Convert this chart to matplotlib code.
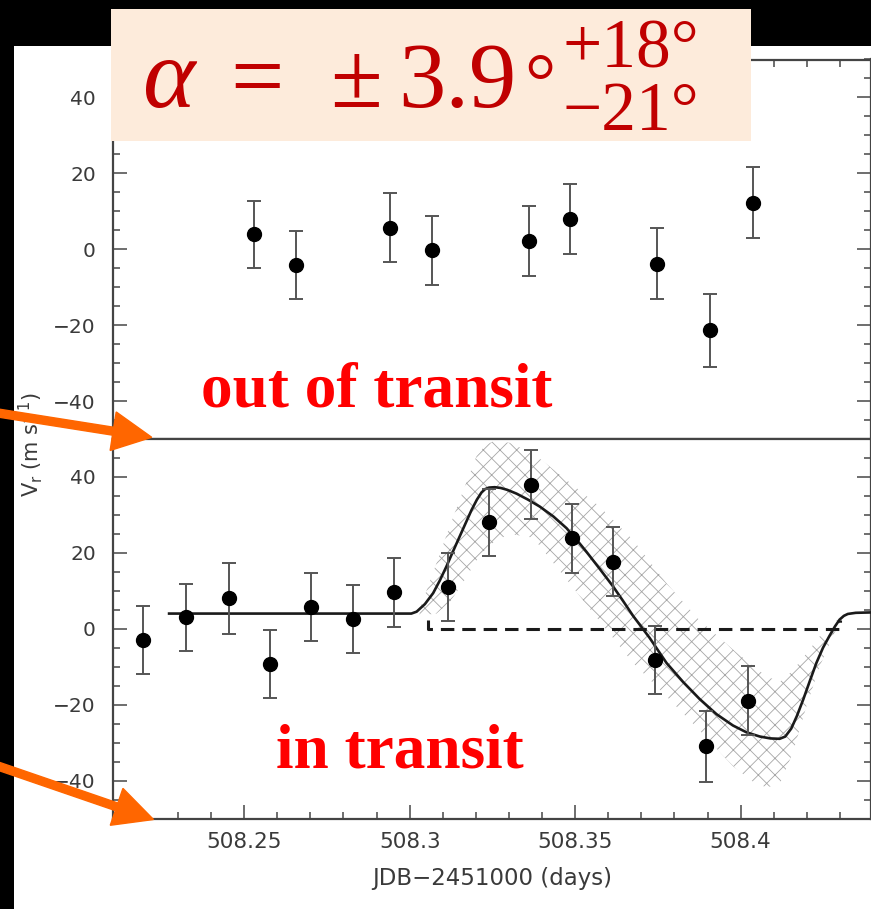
import matplotlib
matplotlib.use("Agg")
import matplotlib.pyplot as plt
from matplotlib.patches import Rectangle, FancyArrow
from matplotlib.ticker import FixedLocator, FixedFormatter, MultipleLocator
from matplotlib.transforms import IdentityTransform

# ---------------- data ----------------
# out of transit
out_t = [508.2529, 508.2655, 508.2940, 508.3068, 508.3360, 508.3484, 508.3746, 508.3909, 508.4037]
out_v = [3.9, -4.2, 5.7, -0.3, 2.2, 7.9, -3.8, -21.3, 12.3]
out_e = [8.9, 9.0, 9.1, 9.1, 9.2, 9.2, 9.4, 9.6, 9.4]

# in transit
in_t = [508.2195, 508.2324, 508.2454, 508.2577, 508.2703, 508.2829, 508.2953, 508.3117,
        508.3240, 508.3366, 508.3489, 508.3615, 508.3740, 508.3894, 508.4021]
in_v = [-2.9, 3.0, 8.0, -9.2, 5.7, 2.5, 9.6, 11.0, 28.0, 37.9, 23.9, 17.7, -8.3, -31.0, -19.0]
in_e = [8.9, 8.9, 9.3, 9.0, 8.9, 9.0, 9.1, 8.9, 8.8, 9.1, 9.1, 9.1, 9.0, 9.4, 9.1]

# model curve (Rossiter-McLaughlin fit)
model_t = [508.2273, 508.3005, 508.3021, 508.3046, 508.3071, 508.3091, 508.3111, 508.3131,
           508.3151, 508.3170, 508.3187, 508.3203, 508.3217, 508.3228, 508.3240, 508.3257,
           508.3275, 508.3295, 508.3323, 508.3358, 508.3393, 508.3434, 508.3474, 508.3504,
           508.3534, 508.3575, 508.3615, 508.3645, 508.3675, 508.3725, 508.3776, 508.3826,
           508.3876, 508.3927, 508.3977, 508.4018, 508.4058, 508.4090, 508.4118, 508.4135,
           508.4153, 508.4170, 508.4189, 508.4209, 508.4229, 508.4249, 508.4269, 508.4285,
           508.4299, 508.4312, 508.4324, 508.4348, 508.4394]
model_v = [4.0, 4.0, 4.5, 6.5, 9.4, 12.7, 16.4, 20.4, 24.3, 28.0, 31.3, 34.0, 35.9, 36.8,
           37.2, 37.3, 37.1, 36.6, 35.6, 34.0, 32.2, 29.6, 26.5, 23.5, 20.3, 15.7, 11.1,
           7.3, 3.4, -2.4, -9.0, -14.0, -18.5, -22.5, -25.5, -27.3, -28.4, -28.9, -29.0,
           -28.4, -26.3, -23.0, -18.7, -13.8, -9.0, -5.0, -1.8, 0.6, 2.4, 3.4, 3.9, 4.2, 4.3]

# uncertainty band of the model
band_t = [508.3030, 508.3081, 508.3121, 508.3160, 508.3202, 508.3230, 508.3257, 508.3302,
          508.3373, 508.3474, 508.3574, 508.3675, 508.3776, 508.3874, 508.3977, 508.4040,
          508.4078, 508.4118, 508.4158, 508.4199, 508.4239, 508.4279, 508.4308]
band_hi = [5.0, 17.3, 27.0, 36.0, 45.5, 48.5, 49.5, 49.0, 46.2, 39.2, 32.2, 23.4, 12.0, 2.4,
           -5.5, -10.0, -12.5, -14.0, -11.0, -6.5, -2.0, 1.5, 3.5]
band_lo = [3.5, 4.0, 7.0, 12.0, 18.0, 21.0, 23.0, 25.0, 24.0, 13.0, 2.0, -9.0, -17.8,
           -26.6, -36.2, -40.5, -41.8, -41.0, -32.6, -20.4, -9.9, -2.0, 3.0]

# aligned (zero) reference: dashed step
ref_t = [508.3056, 508.3056, 508.4299, 508.4299]
ref_v = [2.4, 0.0, 0.0, 2.4]

xticks = [508.25, 508.3, 508.35, 508.4]
xtick_labels = ["508.25", "508.3", "508.35", "508.4"]
yticks = [-40, -20, 0, 20, 40]
ytick_labels = ["\u221240", "\u221220", "0", "20", "40"]

xlabel = "JDB\u22122451000 (days)"
ylabel = r"V$_\mathrm{r}$ (m s$^{-1}$)"
label_out = "out of transit"
label_in = "in transit"
title_main = ["\u03b1", "=", "\u00b1", "3.9", "\u00b0"]
title_err = "+18\u00b0\n\u221221\u00b0"

# ---------------- figure ----------------
W, H = 871, 909
fig = plt.figure(figsize=(W / 100, H / 100), dpi=100, facecolor="black")
plt.rcParams["hatch.linewidth"] = 0.6


def fx(px):
    return px / W


def fy(py):
    return 1 - py / H


# white page
fig.add_artist(Rectangle((fx(14), 0), 1 - fx(14), fy(46), transform=fig.transFigure,
                         facecolor="white", edgecolor="none", zorder=-5))

left, right = 112.5, 871
top, mid, bot = 59.5, 439, 818.5
ax1 = fig.add_axes([fx(left), fy(mid), fx(right) - fx(left), fy(top) - fy(mid)])
ax2 = fig.add_axes([fx(left), fy(bot), fx(right) - fx(left), fy(mid) - fy(bot)])

tick_col = "#555555"
lab_col = "#3a3a3a"
for ax in (ax1, ax2):
    ax.set_facecolor("white")
    ax.set_xlim(508.2102, 508.4394)
    ax.set_ylim(-50, 50)
    ax.xaxis.set_major_locator(FixedLocator(xticks))
    ax.xaxis.set_major_formatter(FixedFormatter(xtick_labels))
    ax.xaxis.set_minor_locator(MultipleLocator(0.01))
    ax.yaxis.set_major_locator(FixedLocator(yticks))
    ax.yaxis.set_major_formatter(FixedFormatter(ytick_labels))
    ax.yaxis.set_minor_locator(MultipleLocator(5))
    ax.tick_params(which="both", direction="in", color=tick_col, width=1.2,
                   left=True, right=True, labelcolor=lab_col)
    ax.tick_params(which="major", length=10)
    ax.tick_params(which="minor", length=5)
    ax.tick_params(axis="y", labelsize=14.5, pad=12)
    ax.tick_params(axis="x", labelsize=15.5, pad=10)
    for s in ax.spines.values():
        s.set_color("#444444")
        s.set_linewidth(1.6)

ax1.tick_params(axis="x", which="both", top=True, bottom=False, labelbottom=False)
ax2.tick_params(axis="x", which="both", top=False, bottom=True, labelbottom=True)

eb_kw = dict(fmt="o", color="black", ms=10, ecolor="#555555", elinewidth=1.4,
             capsize=5, capthick=1.4, zorder=5)
ax1.errorbar(out_t, out_v, yerr=out_e, **eb_kw)

ax2.fill_between(band_t, band_lo, band_hi, facecolor="none", edgecolor="#a6a6a6",
                 hatch="xx", linewidth=0, zorder=1)
ax2.plot(model_t, model_v, color="#1a1a1a", lw=1.9, zorder=3, solid_joinstyle="round")
ax2.plot(ref_t, ref_v, color="#1a1a1a", lw=2.2, linestyle=(0, (4.4, 2.6)), zorder=3)
ax2.errorbar(in_t, in_v, yerr=in_e, **eb_kw)

fig.text(fx(492), fy(879), xlabel, ha="center", va="center", fontsize=16.5, color=lab_col)
fig.text(fx(31), fy(445), ylabel, ha="center", va="center", rotation=90, fontsize=15,
         color=lab_col)

# red labels
fig.text(fx(201), fy(406.7), label_out, ha="left", va="baseline", fontsize=45.5,
         family="Liberation Serif", weight="bold", color="#ff0000", zorder=8)
fig.text(fx(276), fy(767.9), label_in, ha="left", va="baseline", fontsize=45.5,
         family="Liberation Serif", weight="bold", color="#ff0000", zorder=8)

# title box
fig.add_artist(Rectangle((fx(111), fy(141)), fx(751) - fx(111), fy(9) - fy(141),
                         transform=fig.transFigure, facecolor="#FDEBDB", edgecolor="none",
                         zorder=6))
red = "#C00000"
big = 68
small = 50
tkw = dict(ha="left", va="baseline", family="Liberation Serif", color=red, zorder=7)
fig.text(fx(142), fy(107), title_main[0], fontsize=big + 4, style="italic", **tkw)
fig.text(fx(230), fy(107), title_main[1], fontsize=big, **tkw)
fig.text(fx(330), fy(107), title_main[2], fontsize=big, **tkw)
fig.text(fx(398), fy(107), title_main[3], fontsize=big, **tkw)
fig.text(fx(524), fy(107), title_main[4], fontsize=big - 12, **tkw)
fig.text(fx(562), fy(19), title_err, fontsize=small, ha="left", va="top",
         family="Liberation Serif", color=red, zorder=7, linespacing=0.97)

# orange arrows (pixel coordinates)
def add_arrow(x0, y0, x1, y1):
    fig.add_artist(FancyArrow(x0, H - y0, x1 - x0, -(y1 - y0), width=8, head_width=39,
                              head_length=39, length_includes_head=True,
                              color="#FF6600", transform=IdentityTransform(), zorder=10))


add_arrow(-40, 407.0, 151.7, 437.3)
add_arrow(-40, 753.0, 153.5, 819.5)

fig.savefig("out.png", dpi=100, facecolor="black")
